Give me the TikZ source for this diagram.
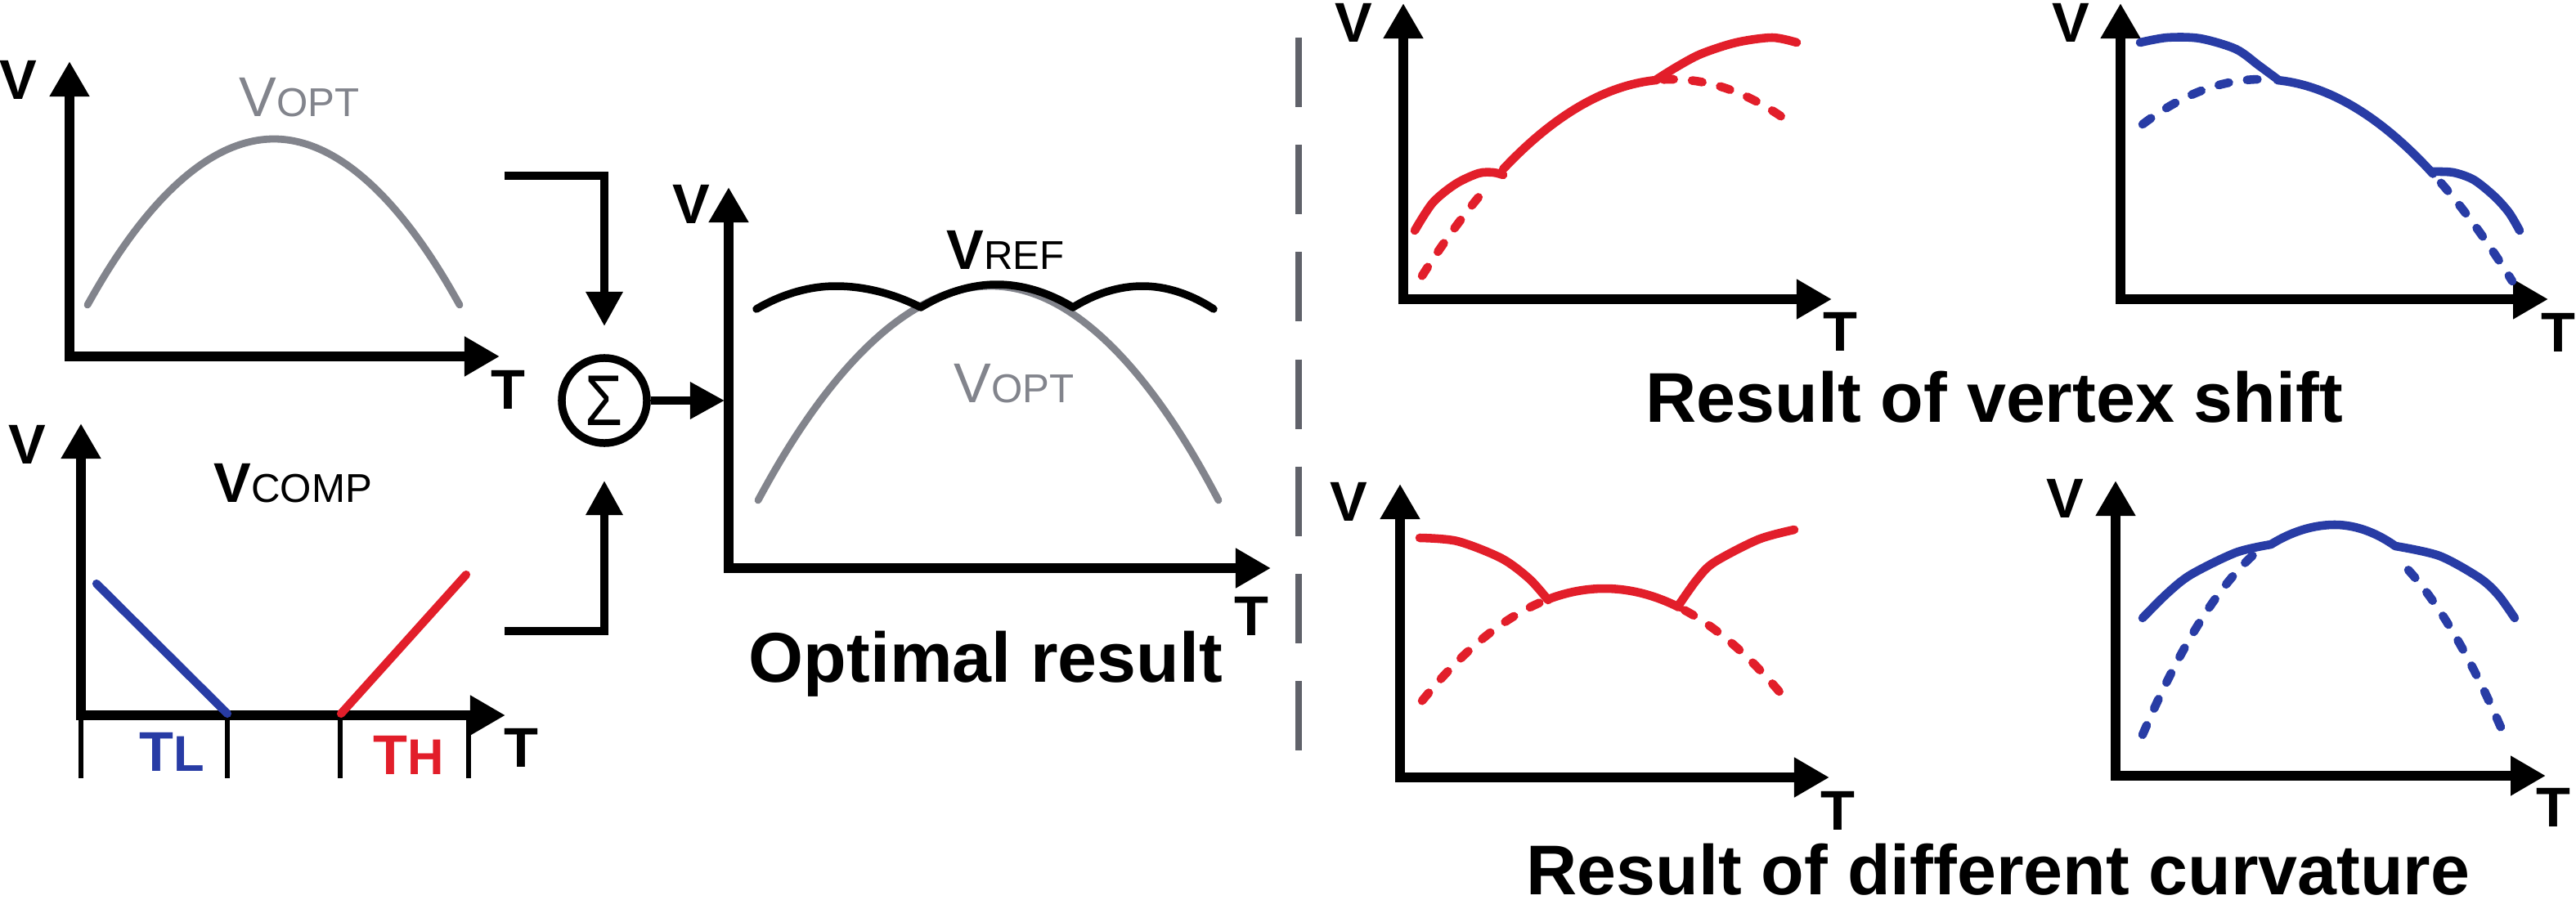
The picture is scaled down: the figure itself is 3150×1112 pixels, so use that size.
\documentclass[tikz,border=0pt]{standalone}
\usepackage{fontspec}
\usepackage{graphicx}
\setmainfont{Liberation Sans}
\usetikzlibrary{arrows.meta}
\definecolor{optgray}{RGB}{130,132,140}
\definecolor{cred}{RGB}{226,30,42}
\definecolor{cblue}{RGB}{40,60,165}
\definecolor{sepgray}{RGB}{96,98,106}
\newcommand{\fsBig}{\fontsize{19.5pt}{22pt}\selectfont}
\newcommand{\fsSub}{\fontsize{14pt}{16pt}\selectfont}
\newcommand{\fsMid}{\fontsize{17.5pt}{20pt}\selectfont}
\newcommand{\fsTitle}{\fontsize{24.5pt}{28pt}\selectfont}
\begin{document}
\begin{tikzpicture}[x=0.01cm,y=-0.01cm,
  axis/.style={line width=3.2pt,{Triangle[length=4.3mm,width=4.6mm]}-{Triangle[length=4.3mm,width=4.6mm]}},
  conn/.style={line width=2.7pt,-{Triangle[length=4.2mm,width=4.3mm]}},
  lab/.style={inner sep=0pt,font=\fsBig\bfseries},
  txt/.style={inner sep=0pt,anchor=base west},
  title/.style={inner sep=0pt,anchor=base west,font=\fsTitle\bfseries},
  optcurve/.style={line width=2.5pt,optgray,line cap=round},
  refcurve/.style={line width=2.7pt,black,line cap=round,line join=round},
  redsolid/.style={line width=3pt,cred,line cap=round,line join=round},
  bluesolid/.style={line width=3pt,cblue,line cap=round,line join=round},
  reddot/.style={line width=3pt,cred,line cap=round,dash pattern=on 3.6pt off 6.4pt},
  bluedot/.style={line width=3pt,cblue,line cap=round,dash pattern=on 3.6pt off 6.4pt},
  tick/.style={line width=1.8pt},
  sep/.style={line width=2.4pt,sepgray,dash pattern=on 24.2pt off 13.1pt}
]
\useasboundingbox (0,0) rectangle (3150,1112);

% ---------- Panel 1: V_OPT ----------
\coordinate (o1) at (85,436);
\coordinate (y1) at (85,75);
\coordinate (x1) at (611,436);
\draw[axis] (y1) -- (o1) -- (x1);
\node[lab] (v1) at (22,98) {V};
\node[lab] (t1) at (621,477) {T};
\draw[optcurve] (107,373) parabola bend (335,170) (562,373);
\node[txt,text=optgray] (vopt1) at (292,143) {\fsBig V\fsSub OPT};

% ---------- Panel 2: V_COMP ----------
\coordinate (o2) at (99,875);
\coordinate (y2) at (99,518);
\coordinate (x2) at (618,875);
\draw[axis] (y2) -- (o2) -- (x2);
\node[lab] (v2) at (33,544) {V};
\node[lab] (t2) at (637,915) {T};
\coordinate (k1) at (99,875);
\coordinate (k2) at (278,875);
\coordinate (k3) at (416,875);
\coordinate (k4) at (573,875);
\foreach \k in {k1,k2,k3,k4} \draw[tick] (\k) -- ++(0,77);
\coordinate (bl1) at (118,714);
\coordinate (bl2) at (278,873);
\coordinate (rl1) at (417,873);
\coordinate (rl2) at (570,703);
\draw[line width=2.9pt,cblue,line cap=round] (bl1) -- (bl2);
\draw[line width=2.9pt,cred,line cap=round] (rl1) -- (rl2);
\node[txt] (vcomp) at (261,614) {{\fsBig\bfseries V}{\fsSub COMP}};
\node[txt,text=cblue,font=\bfseries] (tl) at (170,943) {\fsBig T\fsMid L};
\node[txt,text=cred,font=\bfseries] (th) at (456,947) {\fsBig T\fsMid H};

% ---------- Summation ----------
\node[circle,draw,line width=2.7pt,minimum size=1.04cm,inner sep=0pt] (sum) at (739,490)
  {\fontsize{25pt}{25pt}\selectfont\scalebox{0.85}[1]{Σ}};
\coordinate (c1) at (617,215);
\coordinate (s1) at (739,399);
\coordinate (c2) at (617,772);
\coordinate (s2) at (739,588);
\coordinate (mIn) at (886,490);
\draw[conn] (c1) -| (s1);
\draw[conn] (c2) -| (s2);
\draw[conn] (sum.east) -- (mIn);

% ---------- Middle panel: optimal result ----------
\coordinate (o3) at (891,695);
\coordinate (y3) at (891,229);
\coordinate (x3) at (1554,695);
\draw[axis] (y3) -- (o3) -- (x3);
\node[lab] (v3) at (845,250) {V};
\node[lab] (t3) at (1530,754) {T};
\draw[optcurve] (927,612) parabola bend (1212,350) (1490,612);
\draw[refcurve] (925,378) parabola bend (1022,350) (1126,376)
  parabola bend (1219,348) (1312,376) parabola bend (1397,350) (1484,378);
\node[txt] (vref) at (1157,329) {{\fsBig\bfseries V}{\fsSub REF}};
\node[txt,text=optgray] (vopt2) at (1166,492) {\fsBig V\fsSub OPT};
\node[title] (topt) at (915,834) {Optimal result};

% ---------- Separator ----------
\coordinate (sepT) at (1588,46);
\coordinate (sepB) at (1588,918);
\draw[sep] (sepT) -- (sepB);

% ---------- TR1 (red, vertex shift) ----------
\coordinate (o4) at (1716,366);
\coordinate (y4) at (1716,4);
\coordinate (x4) at (2240,366);
\draw[axis] (y4) -- (o4) -- (x4);
\node[lab] (v4) at (1655,28) {V};
\node[lab] (t4) at (2250,406) {T};
\draw[reddot] plot[domain=1739:1822,samples=25] (\x,{97+25.67*((\x-2045)/100)^2});
\draw[reddot] plot[domain=2034:2194,samples=40] (\x,{97+25.67*((\x-2045)/100)^2});
\draw[redsolid] plot[smooth] coordinates {(1730,282) (1752,248) (1780,225) (1808,212) (1826,211) (1838,214)};
\draw[redsolid] plot[domain=1838:2026,samples=40] (\x,{97+25.67*((\x-2045)/100)^2});
\draw[redsolid] plot[smooth] coordinates {(2026,97) (2050,82) (2080,66) (2123,52) (2167,46) (2197,52)};

% ---------- TR2 (blue, vertex shift) ----------
\coordinate (o5) at (2593,366);
\coordinate (y5) at (2593,4);
\coordinate (x5) at (3116,366);
\draw[axis] (y5) -- (o5) -- (x5);
\node[lab] (v5) at (2532,28) {V};
\node[lab] (t5) at (3128,407) {T};
\draw[bluedot] plot[domain=2620:2775,samples=30] (\x,{97+26.2*((\x-2765)/100)^2});
\draw[bluedot] plot[domain=2985:3072,samples=25] (\x,{97+26.2*((\x-2765)/100)^2});
\draw[bluesolid] plot[smooth] coordinates {(2617,52) (2650,46) (2690,47) (2734,60) (2762,80) (2785,97)};
\draw[bluesolid] plot[domain=2785:2975,samples=40] (\x,{97+26.2*((\x-2765)/100)^2});
\draw[bluesolid] plot[smooth] coordinates {(2975,210) (3000,211) (3025,220) (3050,240) (3068,260) (3081,282)};
\node[title] (tvs) at (2012,516) {Result of vertex shift};

% ---------- BR1 (red, curvature) ----------
\coordinate (o6) at (1712,951);
\coordinate (y6) at (1712,592);
\coordinate (x6) at (2237,951);
\draw[axis] (y6) -- (o6) -- (x6);
\node[lab] (v6) at (1649,614) {V};
\node[lab] (t6) at (2247,992) {T};
\draw[reddot] plot[domain=1739:1885,samples=30] (\x,{720+27.6*((\x-1962)/100)^2});
\draw[reddot] plot[domain=2060:2180,samples=30] (\x,{720+27.6*((\x-1962)/100)^2});
\draw[redsolid] plot[smooth] coordinates {(1736,658) (1782,662) (1836,683) (1870,708) (1893,734)};
\draw[redsolid] plot[domain=1893:2053,samples=30] (\x,{720+27.6*((\x-1962)/100)^2});
\draw[redsolid] plot[smooth] coordinates {(2053,740) (2075,709) (2096,688) (2150,660) (2194,648)};

% ---------- BR2 (blue, curvature) ----------
\coordinate (o7) at (2587,949);
\coordinate (y7) at (2587,588);
\coordinate (x7) at (3113,949);
\draw[axis] (y7) -- (o7) -- (x7);
\node[lab] (v7) at (2525,610) {V};
\node[lab] (t7) at (3122,988) {T};
\draw[bluedot] plot[domain=2620:2765,samples=30] (\x,{640+53*((\x-2841)/100)^2});
\draw[bluedot] plot[domain=2945:3062,samples=30] (\x,{640+53*((\x-2841)/100)^2});
\draw[bluesolid] plot[smooth] coordinates {(2620,756) (2650,726) (2679,703) (2734,676) (2777,666)};
\draw[bluesolid] (2777,666) parabola bend (2855,642) (2929,668);
\draw[bluesolid] plot[smooth] coordinates {(2929,668) (2983,680) (3032,707) (3055,728) (3075,756)};
\node[title] (tdc) at (1866,1094) {Result of different curvature};
\end{tikzpicture}
\end{document}
